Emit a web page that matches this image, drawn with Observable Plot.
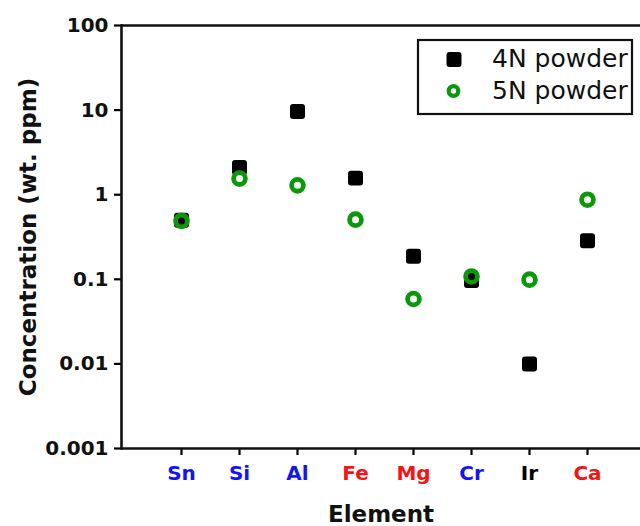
<!DOCTYPE html>
<html>
<head>
<meta charset="utf-8">
<script src="https://cdn.jsdelivr.net/npm/d3@7"></script>
<script src="https://cdn.jsdelivr.net/npm/@observablehq/plot@0.6"></script>
<style>
  html, body { margin: 0; padding: 0; background: #fff; }
  #wrap { position: relative; width: 640px; height: 526px; overflow: hidden; font-family: "DejaVu Sans", sans-serif; }
  #legend { position: absolute; left: 416px; top: 38px; }
</style>
</head>
<body>
<div id="wrap">
  <div id="chart"></div>
  <svg id="legend" width="220" height="78" viewBox="0 0 220 78">
    <rect x="2" y="2" width="214" height="74" fill="#fff" stroke="#111" stroke-width="2.2"/>
    <rect x="30.5" y="14" width="15" height="15" rx="3" fill="#000"/>
    <circle cx="37.5" cy="53" r="4.8" fill="none" stroke="#0b990b" stroke-width="4.2"/>
    <text x="76" y="29" font-family="DejaVu Sans" font-size="25" fill="#111">4N powder</text>
    <text x="76" y="60.5" font-family="DejaVu Sans" font-size="25" fill="#111">5N powder</text>
  </svg>
</div>
<script>
const elements = ["Sn", "Si", "Al", "Fe", "Mg", "Cr", "Ir", "Ca"];
const labelColors = ["#1414f5", "#1414f5", "#1414f5", "#f51414", "#f51414", "#1414f5", "#000000", "#f51414"];
const powder4N = [0.5, 2.1, 9.6, 1.57, 0.187, 0.097, 0.01, 0.286];
const powder5N = [0.49, 1.55, 1.29, 0.507, 0.0585, 0.108, 0.099, 0.873];
const yTicks = [0.001, 0.01, 0.1, 1, 10, 100];

const data4N = elements.map((e, i) => ({element: e, value: powder4N[i]}));
const data5N = elements.map((e, i) => ({element: e, value: powder5N[i]}));
const colorOf = new Map(elements.map((e, i) => [e, labelColors[i]]));

const roundedSquare = {
  draw(ctx, size) {
    const s = Math.sqrt(size), h = s / 2, r = s * 0.2;
    ctx.moveTo(-h + r, -h);
    ctx.lineTo(h - r, -h);
    ctx.arcTo(h, -h, h, -h + r, r);
    ctx.lineTo(h, h - r);
    ctx.arcTo(h, h, h - r, h, r);
    ctx.lineTo(-h + r, h);
    ctx.arcTo(-h, h, -h, h - r, r);
    ctx.lineTo(-h, -h + r);
    ctx.arcTo(-h, -h, -h + r, -h, r);
    ctx.closePath();
  }
};

const chart = Plot.plot({
  width: 640,
  height: 526,
  marginTop: 25,
  marginBottom: 78,
  marginLeft: 121,
  marginRight: 0,
  style: {fontFamily: "DejaVu Sans", background: "#fff"},
  x: {type: "point", domain: elements, range: [179, 588.5], padding: 0},
  y: {type: "log", domain: [0.001, 100]},
  marks: [
    Plot.axisY({
      ticks: yTicks,
      tickFormat: d => String(d),
      tickSize: 7,
      tickPadding: 6,
      strokeWidth: 2.2,
      fontSize: 20,
      fontWeight: "bold",
      fill: "#111",
      label: null
    }),
    Plot.axisX({
      tickSize: 7,
      tickPadding: 10,
      strokeWidth: 2.2,
      fontSize: 20,
      fontWeight: "bold",
      fill: d => colorOf.get(d),
      label: null
    }),
    Plot.ruleY([0.001, 100], {strokeWidth: 2.6, stroke: "#111"}),
    Plot.frame({anchor: "left", strokeWidth: 2.6, stroke: "#111"}),
    Plot.text(["Concentration (wt. ppm)"], {
      frameAnchor: "left", dx: -93, rotate: -90, lineAnchor: "middle", textAnchor: "middle",
      fontSize: 23, fontWeight: "bold", fill: "#111"
    }),
    Plot.text(["Element"], {
      frameAnchor: "bottom", dy: 57, lineAnchor: "top",
      fontSize: 23, fontWeight: "bold", fill: "#111"
    }),
    Plot.dot(data4N, {x: "element", y: "value", symbol: roundedSquare, r: 8.46, fill: "#000", stroke: "none"}),
    Plot.dot(data5N, {x: "element", y: "value", r: 5.9, fill: "none", stroke: "#0b990b", strokeWidth: 4.8})
  ]
});
document.getElementById("chart").appendChild(chart);
</script>
</body>
</html>
